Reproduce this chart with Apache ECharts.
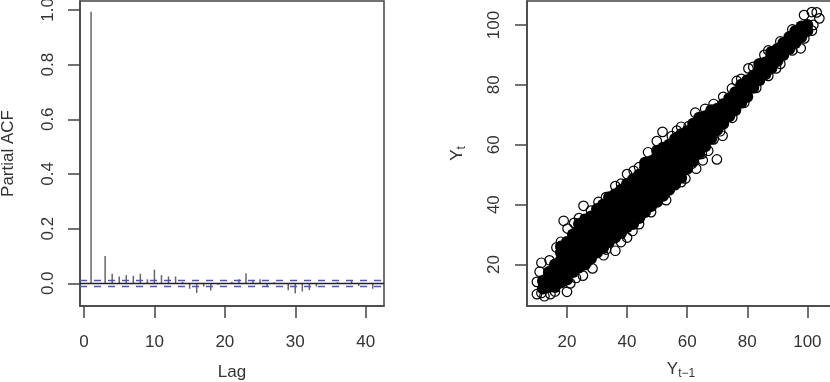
<!DOCTYPE html>
<html><head><meta charset="utf-8">
<style>html,body{margin:0;padding:0;background:#fff;overflow:hidden}#c{width:830px;height:382px;filter:blur(0.45px)}</style>
<script src="https://cdn.jsdelivr.net/npm/echarts@6/dist/echarts.min.js"></script></head>
<body><div id="c"></div>
<script>
const lags = [1,3,4,5,6,7,8,9,10,11,12,13,14,15,16,17,18,19,21,22,23,24,25,26,27,29,30,31,32,33,36,38,39,41];
const pacf = [0.993,0.10,0.035,0.025,0.03,0.027,0.035,0.015,0.05,0.03,0.025,0.025,0.005,-0.02,-0.035,-0.012,-0.026,-0.005,0.006,0.015,0.037,0.012,0.015,-0.01,0.004,-0.025,-0.037,-0.03,-0.025,-0.012,0.004,0.012,-0.01,-0.02];
const pacfBound = 0.0146;
const lagTicks = [0,10,20,30,40];
const pacfTicks = [0,0.2,0.4,0.6,0.8,1];
const scatterTicks = [20,40,60,80,100];
const corePoints = [
[12,12],[12,14.5],[14,12.5],[14,15],[14,17.5],[16,12.5],[16,15],[16,17.5],[16,20],
[18,14],[18,16.5],[18,19],[18,21.5],[18,24],[18,26],[20,15],[20,17.5],[20,20],[20,22.5],[20,25],[20,27.5],
[22,17.5],[22,20],[22,22.5],[22,25],[22,27.5],[22,30],[24,19],[24,21.5],[24,24],[24,26.5],[24,29],[24,31.5],[24,33.5],
[26,20],[26,22.5],[26,25],[26,27.5],[26,30],[26,32.5],[26,35],[28,22],[28,24.5],[28,27],[28,29.5],[28,32],[28,34.5],[28,36],
[30,24],[30,26.5],[30,29],[30,31.5],[30,34],[30,36.5],[30,38.5],[32,25.5],[32,28],[32,30.5],[32,33],[32,35.5],[32,38],[32,40],
[34,27.5],[34,30],[34,32.5],[34,35],[34,37.5],[34,40],[34,42.5],[36,29],[36,31.5],[36,34],[36,36.5],[36,39],[36,41.5],[36,43.5],
[38,30.5],[38,33],[38,35.5],[38,38],[38,40.5],[38,43],[38,45],[40,32.5],[40,35],[40,37.5],[40,40],[40,42.5],[40,45],[40,47],
[42,33.5],[42,36],[42,38.5],[42,41],[42,43.5],[42,46],[42,48.5],[44,35.5],[44,38],[44,40.5],[44,43],[44,45.5],[44,48],[44,50],
[46,37.5],[46,40],[46,42.5],[46,45],[46,47.5],[46,50],[46,52.5],[46,54],[48,39.5],[48,42],[48,44.5],[48,47],[48,49.5],[48,52],[48,54.5],
[50,41],[50,43.5],[50,46],[50,48.5],[50,51],[50,53.5],[50,56],[50,58],[52,43],[52,45.5],[52,48],[52,50.5],[52,53],[52,55.5],[52,58],[52,59],
[54,45],[54,47.5],[54,50],[54,52.5],[54,55],[54,57.5],[54,60],[56,47],[56,49.5],[56,52],[56,54.5],[56,57],[56,59.5],[56,62],
[58,49],[58,51.5],[58,54],[58,56.5],[58,59],[58,61.5],[58,63.5],[60,52],[60,54.5],[60,57],[60,59.5],[60,62],[60,64.5],
[62,54.5],[62,57],[62,59.5],[62,62],[62,64.5],[62,67],[64,57],[64,59.5],[64,62],[64,64.5],[64,67],[64,69],
[66,59.5],[66,62],[66,64.5],[66,67],[66,69.5],[68,62],[68,64.5],[68,67],[68,69.5],[68,71.5],[70,65],[70,67],[70,69.5],[70,72],
[72,67],[72,69],[72,71],[72,73.5],[74,69.5],[74,71.5],[74,73.5],[74,75.5],[76,71.5],[76,73.5],[76,75.5],[76,77.5],
[78,74],[78,76],[78,78],[78,80],[80,76],[80,78],[80,80],[80,81.5],[82,79],[82,81],[82,83],[84,81.5],[84,83.5],[84,85.5],[84,87],
[86,83.5],[86,85.5],[86,87.5],[88,85.5],[88,87.5],[88,89.5],[88,91],[90,88],[90,90],[90,92],[92,90],[92,92],[92,94],
[94,92],[94,94],[94,96],[96,94],[96,96],[96,98],[98,96],[98,98],[98,99.5],[100,98],[100,100]
];
const outlierPoints = [
[98.9,103.3],[103.1,104.2],[101.5,104.3],[104,102.2],[101.5,98.1],[97.8,92.2],[89.6,85.5],[80.4,85.5],[85.7,90],[76.5,81.3],[74.9,78.8],
[68.8,73.6],[62.7,70.7],[60.5,66.2],[56.6,64.7],[51.8,64.3],[49.9,61.2],[54.9,62.9],[71.8,63],[68.8,61.8],[72.1,67.7],[69.9,55.1],
[65.2,54.8],[61.6,53.7],[59.4,48.7],[56,46.5],[42.2,51.3],[40,50.2],[36.1,46.2],[30.5,40.9],[64.9,56.9],[25.5,39.6],[18.9,34.6],
[22.4,33.9],[41.8,31.2],[40,29],[36.1,24.6],[28.5,18.7],[25.3,16.3],[20,10.9],[11.5,20.6],[10.9,17.6],[10,14.2],[10,10.1],[12.5,9.4],
[14.5,10.1],[16.5,25.7],[18,27.6],[20.2,32],[14.2,21.4],[21.1,13.7],[32.2,23.1],[47.2,40.3],[44.4,35.9],[11.5,10.5],[16,11],[23,15.5],
[27,21],[33,25],[38,27.5],[44,33.5],[48,37.5],[53,41.5],[58,47.5],[63,52],[67,58],[71,64.5],[75,69],[79,74],[83,79],[87,83],[91,87],
[95,91.5],[99,95.5],[102,100],[78,82],[82,86],[87,91.5],[91,94.5],[95,98.5],[72,76],[66,72],[58,66],[47,57.5],[44,52.5],[38,47],[33,42.5],[28,38],[24,35.5]
];
const font = 'Liberation Sans, Arial, sans-serif';
const ink = '#333';
const labelStyle = {fontFamily:font,fontSize:17,color:ink};
const lineStyle = {color:'#444',width:1.5};
const axisBase = (name,gap,ticks,min,max,gridIndex,extra) => Object.assign({
  type:'value',gridIndex,min,max,name,nameLocation:'middle',nameGap:gap,
  nameTextStyle:{fontFamily:font,fontSize:17,color:ink},
  splitLine:{show:false},axisLine:{show:true,onZero:false,lineStyle},
  axisTick:{show:true,length:12,lineStyle,customValues:ticks},
  axisLabel:Object.assign({margin:28},labelStyle,{customValues:ticks,showMinLabel:true,showMaxLabel:true,hideOverlap:false})
},extra||{});
const rich = {a:{fontFamily:font,fontSize:17,color:ink},b:{fontFamily:font,fontSize:12,color:ink,padding:[9,0,0,0]}};
const chart = echarts.init(document.getElementById('c'),null,{renderer:'canvas'});
chart.setOption({
  animation:false,backgroundColor:'#fff',
  grid:[
    {left:80,top:1,width:304,height:305,show:true,outerBoundsMode:'none',borderColor:'#444',borderWidth:1.5,backgroundColor:'transparent'},
    {left:527,top:1,width:308,height:305,show:true,outerBoundsMode:'none',borderColor:'#444',borderWidth:1.5,backgroundColor:'transparent'}
  ],
  xAxis:[
    axisBase('Lag',58,lagTicks,-0.57,42.6,0,{}),
    axisBase('{a|Y}{b|t\u22121}',53,scatterTicks,6.7,109.2,1,{nameTextStyle:{rich}})
  ],
  yAxis:[
    axisBase('Partial ACF',63,pacfTicks,-0.083,1.0325,0,{axisLabel:Object.assign({margin:32,rotate:90,align:'center',verticalAlign:'middle'},labelStyle,{customValues:pacfTicks,showMinLabel:true,showMaxLabel:true,hideOverlap:false,formatter:v=>v.toFixed(1)})}),
    axisBase('{a|Y}{b|t}',59,scatterTicks,6.15,108,1,{nameTextStyle:{rich},axisLabel:Object.assign({margin:33,rotate:90,align:'center',verticalAlign:'middle'},labelStyle,{customValues:scatterTicks,showMinLabel:true,showMaxLabel:true,hideOverlap:false})})
  ],
  series:[
    {type:'bar',xAxisIndex:0,yAxisIndex:0,barWidth:1.5,itemStyle:{color:'#666'},silent:true,
     data:lags.map((l,i)=>[l,pacf[i]]),
     markLine:{silent:true,symbol:'none',label:{show:false},animation:false,
       data:[
         {yAxis:0,lineStyle:{color:'#222',width:1.3,type:'solid'}},
         {yAxis:pacfBound,lineStyle:{color:'#4f4fd0',width:1.3,type:[7,7]}},
         {yAxis:-pacfBound,lineStyle:{color:'#4f4fd0',width:1.3,type:[7,7]}}
       ]}},
    {type:'scatter',xAxisIndex:1,yAxisIndex:1,symbol:'circle',symbolSize:12,silent:true,
     itemStyle:{color:'#000',borderColor:'#000',borderWidth:0,opacity:1},data:corePoints},
    {type:'scatter',xAxisIndex:1,yAxisIndex:1,symbol:'circle',symbolSize:9.5,silent:true,
     itemStyle:{color:'rgba(0,0,0,0)',borderColor:'#000',borderWidth:1.2,opacity:1},data:outlierPoints}
  ]
});
</script></body></html>
